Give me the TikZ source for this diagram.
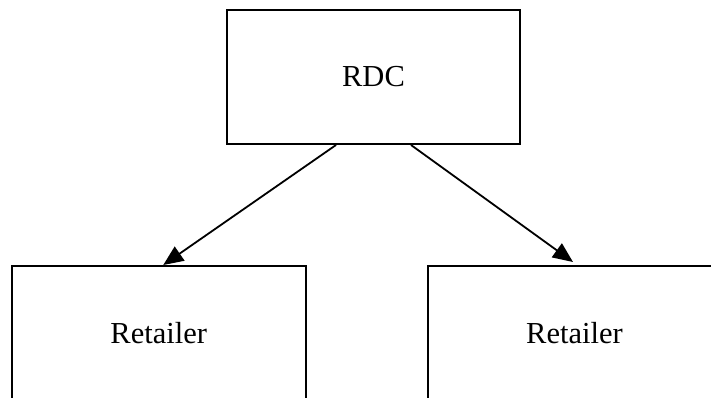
\documentclass[tikz,border=0pt]{standalone}
\usepackage{fontspec}
\setmainfont{Liberation Serif}
\usetikzlibrary{arrows.meta}
\begin{document}
\begin{tikzpicture}[x=1pt,y=-1pt,
  box/.style={draw=black, line width=2pt, rectangle, inner sep=0pt,
    font=\fontsize{30.5}{36}\selectfont},
  flow/.style={draw=black, line width=1.8pt,
    -{Triangle[length=20pt,width=17pt]}}]
  \path[use as bounding box] (0,0) rectangle (711,398);
  \clip (0,0) rectangle (711,398);

  % distribution centre
  \node[box, minimum width=293pt, minimum height=134pt] (rdc) at (373.5,77) {RDC};

  % retailers (lower edges run past the frame)
  \node[box, minimum width=294.5pt, minimum height=134pt] (ret1) at (158.75,333) {Retailer};
  \node[box, minimum width=294pt, minimum height=134pt] (ret2) at (574.5,333) {Retailer};

  % shipments
  \draw[flow] ([xshift=-37.5pt]rdc.south) -- ([xshift=4.5pt]ret1.north);
  \draw[flow] ([xshift=37.5pt]rdc.south) -- ([xshift=-1.5pt,yshift=3pt]ret2.north);
\end{tikzpicture}
\end{document}
